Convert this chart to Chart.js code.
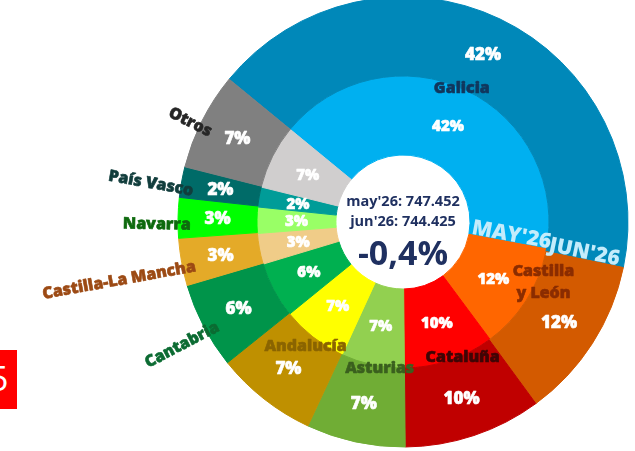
<!DOCTYPE html>
<html>
<head>
<meta charset="utf-8">
<script src="https://cdn.jsdelivr.net/npm/chart.js@4/dist/chart.umd.min.js"></script>
<style>
  html, body { margin: 0; padding: 0; background: #fff; overflow: hidden; }
  #wrap { position: relative; width: 635px; height: 451px; }
  #chart { position: absolute; left: 0; top: 0; }
  .tag { position: absolute; left: 0; top: 350px; width: 17px; height: 59px; background: #ff0000; overflow: hidden; }
  .tag span { position: absolute; left: -11px; top: 8px; color: #fff; font: 34px "Open Sans", sans-serif; line-height: 40px; }
</style>
</head>
<body>
<div id="wrap">
  <canvas id="chart" width="635" height="451"></canvas>
  <div class="tag"><span>5</span></div>
</div>
<script>
// regions, clockwise starting with Galicia
const categories = ["Galicia", "Castilla y León", "Cataluña", "Asturias", "Andalucía", "Cantabria", "Castilla-La Mancha", "Navarra", "País Vasco", "Otros"];
// share of total (%)
const sharesJun = [42.3, 11.7, 9.9, 7.1, 7.3, 6.2, 3.4, 2.9, 2.2, 7.0];
const sharesMay = [42.0, 11.9, 10.0, 7.0, 7.3, 6.2, 3.4, 2.9, 2.2, 7.1];
const periods = ["MAY'26", "JUN'26"];
const totalMay = 747452;
const totalJun = 744425;

const colorsJun = ["#0088b9", "#d35a00", "#c00000", "#70ad35", "#bf9000", "#00944a", "#e4aa28", "#00ff00", "#006b68", "#808080"];
const colorsMay = ["#00b0f0", "#ff6600", "#ff0000", "#92d050", "#ffff00", "#00b050", "#f0cc88", "#99ff66", "#009c98", "#d0cece"];
const nameColors = ["#11365c", "#8a2c00", "#3d0505", "#3a5f1e", "#8a6400", "#0b6b32", "#9c4a14", "#0e6a0e", "#113d3c", "#262626"];
const outside = ["Cantabria", "Castilla-La Mancha", "Navarra", "País Vasco", "Otros"];
// small nudges for names written inside the rings
const nudge = { "Galicia": [-5, 0], "Castilla y León": [16, -20], "Cataluña": [13, -5], "Asturias": [8, 2], "Andalucía": [-6, 8] };

const FONT = '"Open Sans", "Noto Sans", sans-serif';
const fmt = n => n.toLocaleString("es-ES", { useGrouping: "always" });

// filled text with a thin stroke of the same colour, a little heavier
function heavy(ctx, t, x, y) {
  ctx.strokeStyle = ctx.fillStyle;
  ctx.lineWidth = 0.6;
  ctx.lineJoin = "round";
  ctx.strokeText(t, x, y);
  ctx.fillText(t, x, y);
}

const ringLabels = {
  id: "ringLabels",
  afterDatasetsDraw(chart) {
    const ctx = chart.ctx;
    const outer = chart.getDatasetMeta(0).data;
    const inner = chart.getDatasetMeta(1).data;
    ctx.save();
    ctx.textAlign = "center";
    ctx.textBaseline = "middle";

    // percentages
    [[outer, sharesJun, 17], [inner, sharesMay, 15]].forEach(([arcs, vals, size]) => {
      ctx.font = "800 " + size + "px " + FONT;
      ctx.fillStyle = "#ffffff";
      arcs.forEach((arc, i) => {
        const p = arc.tooltipPosition();
        heavy(ctx, Math.round(vals[i]) + "%", p.x, p.y + 1);
      });
    });

    // region names
    ctx.font = "800 16px " + FONT;
    outer.forEach((arc, i) => {
      const name = categories[i];
      const mid = (arc.startAngle + arc.endAngle) / 2;
      ctx.fillStyle = nameColors[i];
      if (outside.includes(name)) {
        const r = 212;
        ctx.save();
        ctx.translate(arc.x + r * Math.cos(mid), arc.y + r * Math.sin(mid));
        ctx.rotate(mid + Math.PI);
        ctx.textAlign = "right";
        ctx.textBaseline = "middle";
        heavy(ctx, name, 0, 7);
        ctx.restore();
      } else {
        const r = 148;
        const d = nudge[name] || [0, 0];
        const x = arc.x + r * Math.cos(mid) + d[0];
        const y = arc.y + r * Math.sin(mid) + d[1];
        const lines = name === "Castilla y León" ? ["Castilla", "y León"] : [name];
        lines.forEach((t, k) => heavy(ctx, t, x, y + (k - (lines.length - 1) / 2) * 22));
      }
    });

    // period names along the end of the Galicia slice
    ctx.font = "800 21px " + FONT;
    ctx.fillStyle = "#c4ecfb";
    ctx.textAlign = "left";
    ctx.textBaseline = "alphabetic";
    [[inner[0], periods[0]], [outer[0], periods[1]]].forEach(([arc, t]) => {
      const a = arc.endAngle;
      const r = arc.innerRadius + 2;
      ctx.save();
      ctx.translate(arc.x + r * Math.cos(a), arc.y + r * Math.sin(a));
      ctx.rotate(a);
      ctx.fillText(t, 0, -1);
      ctx.restore();
    });

    // centre totals
    const cx = outer[0].x, cy = outer[0].y;
    ctx.fillStyle = "#1f3060";
    ctx.textAlign = "center";
    ctx.textBaseline = "middle";
    ctx.font = "bold 14.5px " + FONT;
    ctx.fillText("may'26: " + fmt(totalMay), cx, cy - 20);
    ctx.fillText("jun'26: " + fmt(totalJun), cx, cy);
    const change = (totalJun / totalMay - 1) * 100;
    ctx.font = "bold 34px " + FONT;
    ctx.fillText(change.toFixed(1).replace(".", ",") + "%", cx, cy + 33);
    ctx.restore();
  }
};

new Chart(document.getElementById("chart"), {
  type: "doughnut",
  data: {
    labels: categories,
    datasets: [
      { label: periods[1], data: sharesJun, backgroundColor: colorsJun, borderColor: colorsJun, borderWidth: 1 },
      { label: periods[0], data: sharesMay, backgroundColor: colorsMay, borderColor: colorsMay, borderWidth: 1 }
    ]
  },
  options: {
    responsive: false,
    animation: false,
    rotation: -50.6,
    radius: 225,
    cutout: 66,
    layout: { padding: { left: 178, right: 7, top: 0, bottom: 7 } },
    events: [],
    plugins: {
      legend: { display: false },
      tooltip: { enabled: false }
    }
  },
  plugins: [ringLabels]
});
</script>
</body>
</html>
